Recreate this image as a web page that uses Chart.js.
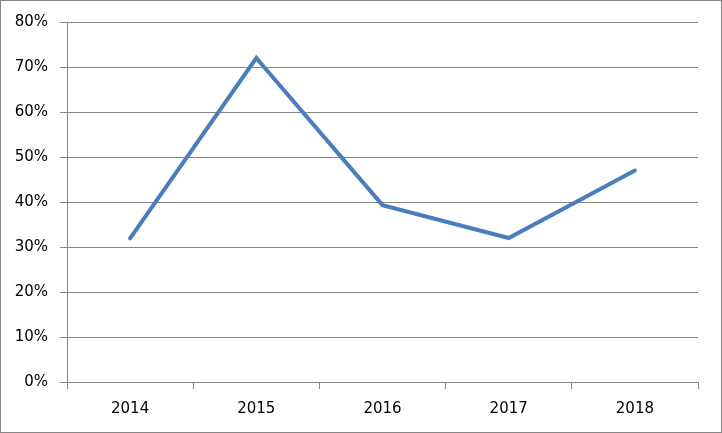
<!DOCTYPE html>
<html>
<head>
<meta charset="utf-8">
<script src="https://cdn.jsdelivr.net/npm/chart.js@4/dist/chart.umd.min.js"></script>
<style>
  html, body { margin: 0; padding: 0; background: #fff; }
  #frame {
    width: 722px; height: 433px; box-sizing: border-box;
    border: 1px solid #868686; background: #fff;
  }
  #chart { display: block; }
</style>
</head>
<body>
<div id="frame"><canvas id="chart" width="720" height="431"></canvas></div>
<script>
// Valores (porcentaje por anio)
const years = ["2014", "2015", "2016", "2017", "2018"];
const shares = [31.9, 72.0, 39.3, 32.0, 47.0];
const yTicks = [0, 10, 20, 30, 40, 50, 60, 70, 80];

const gridColor = "#868686";
const lineColor = "#4a7ebb";
const font = { family: "'DejaVu Sans', Verdana, sans-serif", size: 15 };

Chart.defaults.color = "#000";

new Chart(document.getElementById("chart"), {
  type: "line",
  data: {
    labels: years,
    datasets: [{
      data: shares,
      borderColor: lineColor,
      borderWidth: 4,
      pointRadius: 0,
      tension: 0,
      borderCapStyle: "round",
      borderJoinStyle: "miter"
    }]
  },
  options: {
    responsive: false,
    animation: false,
    layout: { padding: { top: 21, right: 23, left: 0, bottom: 0 } },
    plugins: { legend: { display: false }, tooltip: { enabled: false } },
    scales: {
      x: {
        offset: true,
        grid: {
          offset: true,
          drawOnChartArea: false,
          drawTicks: true,
          tickLength: 7,
          color: gridColor
        },
        border: { color: gridColor },
        ticks: { font, padding: 11, maxRotation: 0 },
        afterFit: (scale) => { scale.height = 50; }
      },
      y: {
        min: 0,
        max: 80,
        afterBuildTicks: (scale) => { scale.ticks = yTicks.map((v) => ({ value: v })); },
        grid: { color: gridColor, tickLength: 7 },
        border: { color: gridColor },
        ticks: { font, padding: 12, callback: (v) => v + "%" },
        afterFit: (scale) => { scale.width = 66; }
      }
    }
  }
});
</script>
</body>
</html>
